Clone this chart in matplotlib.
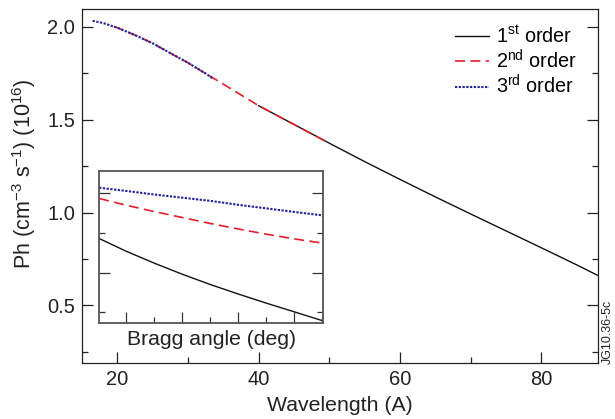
import numpy as np
import matplotlib.pyplot as plt
from matplotlib.ticker import MultipleLocator, NullFormatter

plt.rcParams['font.family'] = ['Liberation Sans', 'DejaVu Sans']
plt.rcParams['mathtext.default'] = 'regular'

# main panel: Ph vs wavelength for each diffraction order
wl_1st = [40, 45, 50, 55, 60, 65, 70, 75, 80, 85, 88]
ph_1st = [1.575, 1.474, 1.373, 1.274, 1.178, 1.084, 0.992, 0.901, 0.810, 0.718, 0.661]
wl_2nd = [19.5, 20, 22.5, 25, 27.5, 30, 32.5, 35, 40, 45, 50]
ph_2nd = [2.0, 1.995, 1.955, 1.911, 1.858, 1.806, 1.748, 1.691, 1.575, 1.474, 1.373]
wl_3rd = [16.5, 18, 20, 22.5, 25, 27.5, 30, 32.5, 33.6]
ph_3rd = [2.032, 2.02, 1.995, 1.955, 1.911, 1.858, 1.806, 1.748, 1.72]

# inset: vs Bragg angle (no tick labels in the original)
bragg = [5.2, 10, 15, 20, 25, 30, 35, 40, 45.2]
ins_1st = [0.286, 0.254, 0.224, 0.196, 0.170, 0.146, 0.123, 0.101, 0.078]
ins_2nd = [0.387, 0.370, 0.354, 0.339, 0.324, 0.310, 0.297, 0.285, 0.274]
ins_3rd = [0.414, 0.406, 0.397, 0.389, 0.381, 0.371, 0.362, 0.353, 0.344]

BLACK = '#111111'
RED = '#e3202b'
BLUE = '#24249a'
dash = (0, (6, 3.2))
dot = (0, (1.1, 0.7))

fig = plt.figure(figsize=(6.15, 4.19), dpi=100)
ax = fig.add_axes([82/615, 1-363/419, 516/615, 353.5/419])

ax.plot(wl_1st, ph_1st, color=BLACK, lw=1.0, label='1$^{st}$ order')
ax.plot(wl_2nd, ph_2nd, color=RED, lw=1.2, linestyle=dash, label='2$^{nd}$ order')
ax.plot(wl_3rd, ph_3rd, color=BLUE, lw=1.5, linestyle=dot, label='3$^{rd}$ order')

ax.set_xlim(15, 88)
ax.set_ylim(0.19, 2.093)
ax.xaxis.set_major_locator(MultipleLocator(20))
ax.xaxis.set_minor_locator(MultipleLocator(10))
ax.yaxis.set_major_locator(MultipleLocator(0.5))
ax.yaxis.set_minor_locator(MultipleLocator(0.25))
ax.yaxis.set_major_formatter(plt.FormatStrFormatter('%.1f'))
ax.tick_params(which='both', direction='in', right=True, top=False,
               labelsize=14.5, colors='#222222', width=0.9, pad=5)
ax.tick_params(which='major', length=8)
ax.tick_params(which='minor', length=4.5)
for s in ax.spines.values():
    s.set_color('#222222')
    s.set_linewidth(0.9)

ax.set_xlabel('Wavelength (A)', fontsize=15.3, color='#222222', labelpad=5)
ax.set_ylabel('Ph (cm$^{-3}$ s$^{-1}$) (10$^{16}$)', fontsize=15.5, color='#222222')
ax.yaxis.set_label_coords(-0.086, 0.535)

ax.legend(loc='upper left', bbox_to_anchor=(455/615, 1-25/419), bbox_transform=fig.transFigure,
          frameon=False, fontsize=14.3, handlelength=1.7, handletextpad=0.35,
          labelspacing=0.12, borderpad=0, borderaxespad=0)

# inset
ins = fig.add_axes([99/615, 1-323.3/419, 224.3/615, 152.6/419])
ins.plot(bragg, ins_1st, color=BLACK, lw=1.0)
ins.plot(bragg, ins_2nd, color=RED, lw=1.2, linestyle=dash)
ins.plot(bragg, ins_3rd, color=BLUE, lw=1.5, linestyle=dot)
ins.set_xlim(5.18, 45.2)
ins.set_ylim(0.072, 0.457)
ins.xaxis.set_major_locator(MultipleLocator(10))
ins.xaxis.set_minor_locator(MultipleLocator(5))
ins.yaxis.set_major_locator(MultipleLocator(0.2))
ins.yaxis.set_minor_locator(MultipleLocator(0.1))
ins.xaxis.set_major_formatter(NullFormatter())
ins.yaxis.set_major_formatter(NullFormatter())
ins.tick_params(which='both', direction='in', right=True, top=False, colors='#333333', width=0.9)
ins.tick_params(which='major', length=8)
ins.tick_params(which='minor', length=4.5)
for s in ins.spines.values():
    s.set_color('#555555')
    s.set_linewidth(1.3)
ins.set_xlabel('Bragg angle (deg)', fontsize=15.2, color='#222222', labelpad=1)

fig.text(607.5/615, 1-331.5/419, 'JG10.36-5c', rotation=90, fontsize=9,
         ha='center', va='center', color='#222222')

fig.savefig('out.png', dpi=100)
